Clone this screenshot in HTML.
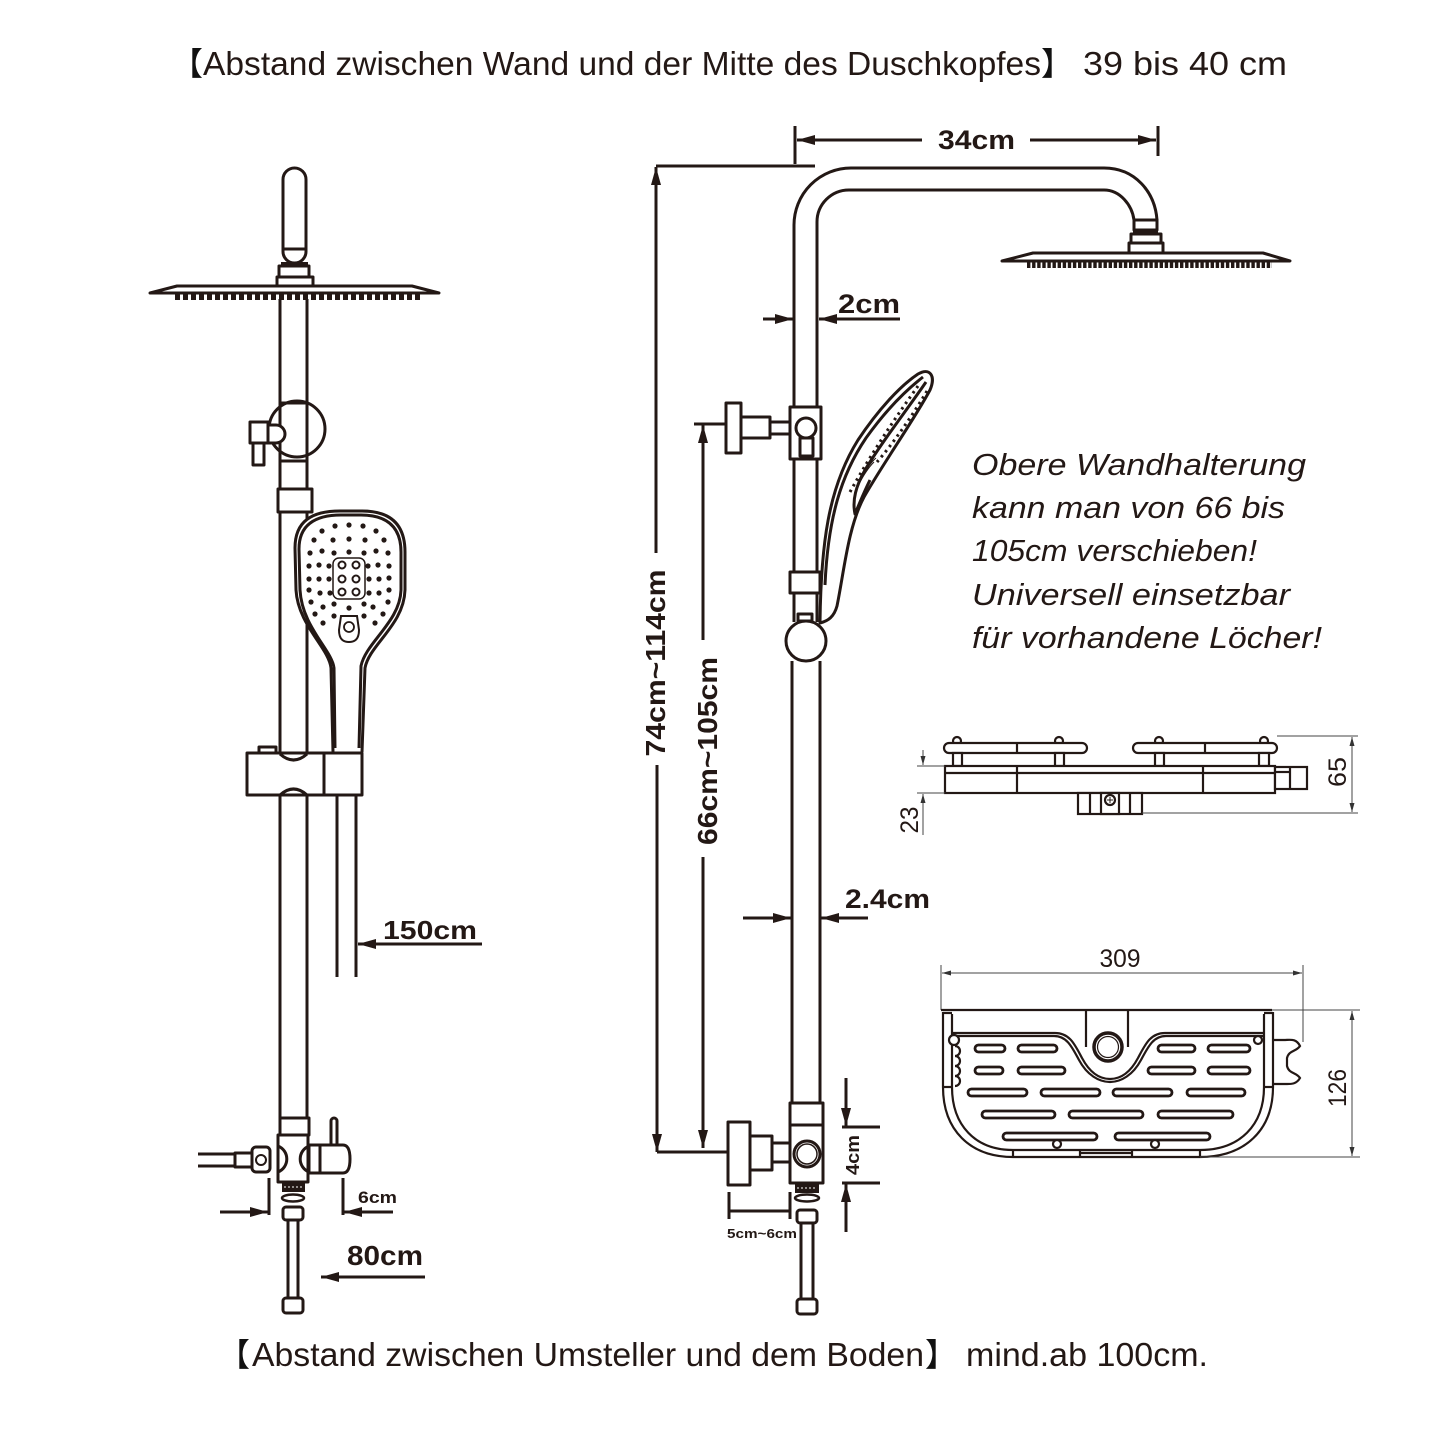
<!DOCTYPE html>
<html>
<head>
<meta charset="utf-8">
<style>
  html,body{margin:0;padding:0;background:#fff;}
  svg{display:block;}
  .s{fill:none;stroke:#231815;stroke-width:3;stroke-linejoin:round;}
  .w{fill:#fff;stroke:#231815;stroke-width:3;stroke-linejoin:round;}
  .t{fill:none;stroke:#231815;stroke-width:2.2;}
  .tw{fill:#fff;stroke:#231815;stroke-width:2.2;}
  .d{fill:none;stroke:#444;stroke-width:1;}
  .f{fill:#231815;}
  .b{font-family:"Liberation Sans",Arial,sans-serif;font-weight:bold;fill:#231815;}
  .r{font-family:"Liberation Sans",Arial,sans-serif;fill:#231815;}
  .cjk{font-family:"Noto Sans CJK SC","WenQuanYi Zen Hei",sans-serif;fill:#111;}
</style>
</head>
<body>
<svg width="1445" height="1445" viewBox="0 0 1445 1445" xmlns="http://www.w3.org/2000/svg">
<defs>
  <marker id="ah" markerUnits="userSpaceOnUse" markerWidth="18" markerHeight="10" refX="18" refY="5" orient="auto">
    <path d="M0,0 L18,5 L0,10 Z" fill="#231815"/>
  </marker>
  <marker id="as" markerUnits="userSpaceOnUse" markerWidth="9" markerHeight="5" refX="9" refY="2.5" orient="auto">
    <path d="M0,0 L9,2.5 L0,5 Z" fill="#333"/>
  </marker>
</defs>
<rect width="1445" height="1445" fill="#fff"/>

<!-- ===== Titles ===== -->
<text class="cjk" x="171" y="75" font-size="32">【</text>
<text class="r" x="203" y="75" font-size="33" textLength="838" lengthAdjust="spacingAndGlyphs">Abstand zwischen Wand und der Mitte des Duschkopfes</text>
<text class="cjk" x="1041" y="75" font-size="32">】</text>
<text class="r" x="1083" y="75" font-size="33" textLength="204" lengthAdjust="spacingAndGlyphs">39 bis 40 cm</text>

<text class="cjk" x="218" y="1366" font-size="32">【</text>
<text class="r" x="252" y="1366" font-size="33" textLength="672" lengthAdjust="spacingAndGlyphs">Abstand zwischen Umsteller und dem Boden</text>
<text class="cjk" x="925" y="1366" font-size="32">】</text>
<text class="r" x="966" y="1366" font-size="33" textLength="242" lengthAdjust="spacingAndGlyphs">mind.ab 100cm.</text>

<!-- ===== LEFT DIAGRAM ===== -->
<rect class="s" x="283" y="168" width="23" height="95" rx="11.5"/>
<line class="s" x1="283" y1="249" x2="306" y2="249"/>
<rect class="f" x="281" y="262" width="27" height="4"/>
<rect class="s" x="279" y="266" width="30" height="11"/>
<rect class="s" x="277" y="277" width="36" height="9"/>
<path class="w" d="M150,293 L177,286 L412,286 L439,293 Z" stroke-width="2.5"/>
<line x1="175" y1="296.5" x2="421" y2="296.5" stroke="#231815" stroke-width="7" stroke-dasharray="5 3"/>

<line class="s" x1="280" y1="299" x2="280" y2="488"/>
<line class="s" x1="307" y1="299" x2="307" y2="488"/>
<line class="s" x1="280" y1="403" x2="307" y2="403"/>
<line class="s" x1="280" y1="461" x2="307" y2="461"/>
<circle class="s" cx="297" cy="429" r="28"/>
<rect class="w" x="250" y="422" width="18" height="21"/>
<rect class="w" x="253" y="443" width="11" height="22"/>
<path class="w" d="M268,425 L276,425 A9,9 0 0 1 276,443 L268,443 Z"/>
<rect class="w" x="278" y="489" width="34" height="23"/>
<line class="s" x1="280" y1="512" x2="280" y2="754"/>
<line class="s" x1="307" y1="512" x2="307" y2="754"/>

<!-- hand shower front -->
<path class="w" d="M333,752 L331,668 C329,648 298,625 296,590 L295,548 C295,521 312,511 340,511 L362,511 C391,511 405,525 405,552 L405,590 C404,625 369,645 365,668 L362,752"/>
<path class="s" stroke-width="2" d="M335,748 L334,668 C332,650 302,627 300,590 L299,549 C299,525 315,515 341,515 L361,515 C388,515 401,528 401,552 L401,590 C400,622 366,642 361,666 L359,748"/>
<g class="f">
  <circle cx="335" cy="526" r="2.6"/><circle cx="349" cy="525" r="2.6"/><circle cx="363" cy="526" r="2.6"/>
  <circle cx="322" cy="531" r="2.6"/><circle cx="376" cy="531" r="2.6"/>
  <circle cx="314" cy="540" r="2.6"/><circle cx="333" cy="540" r="2.6"/><circle cx="349" cy="539" r="2.6"/><circle cx="365" cy="540" r="2.6"/><circle cx="384" cy="540" r="2.6"/>
  <circle cx="310" cy="553" r="2.6"/><circle cx="322" cy="551" r="2.6"/><circle cx="334" cy="553" r="2.6"/><circle cx="349" cy="552" r="2.6"/><circle cx="364" cy="553" r="2.6"/><circle cx="376" cy="551" r="2.6"/><circle cx="388" cy="553" r="2.6"/>
  <circle cx="309" cy="566" r="2.6"/><circle cx="319" cy="565" r="2.6"/><circle cx="329" cy="566" r="2.6"/><circle cx="368" cy="566" r="2.6"/><circle cx="378" cy="565" r="2.6"/><circle cx="389" cy="566" r="2.6"/>
  <circle cx="309" cy="579" r="2.6"/><circle cx="319" cy="579" r="2.6"/><circle cx="329" cy="579" r="2.6"/><circle cx="369" cy="579" r="2.6"/><circle cx="379" cy="579" r="2.6"/><circle cx="389" cy="578" r="2.6"/>
  <circle cx="309" cy="590" r="2.6"/><circle cx="320" cy="593" r="2.6"/><circle cx="330" cy="593" r="2.6"/><circle cx="369" cy="593" r="2.6"/><circle cx="379" cy="593" r="2.6"/><circle cx="389" cy="590" r="2.6"/>
  <circle cx="311" cy="602" r="2.6"/><circle cx="334" cy="604" r="2.6"/><circle cx="349" cy="608" r="2.6"/><circle cx="364" cy="604" r="2.6"/><circle cx="388" cy="602" r="2.6"/>
  <circle cx="323" cy="607" r="2.6"/><circle cx="373" cy="607" r="2.6"/>
  <circle cx="315" cy="614" r="2.6"/><circle cx="334" cy="616" r="2.6"/><circle cx="364" cy="616" r="2.6"/><circle cx="383" cy="614" r="2.6"/>
  <circle cx="323" cy="623" r="2.6"/><circle cx="375" cy="623" r="2.6"/>
</g>
<rect x="333" y="558" width="32" height="41" rx="6" fill="none" stroke="#231815" stroke-width="1.5"/>
<g fill="none" stroke="#231815" stroke-width="2">
  <circle cx="342" cy="565" r="3.5"/><circle cx="356" cy="565" r="3.5"/>
  <circle cx="342" cy="579" r="3.5"/><circle cx="356" cy="579" r="3.5"/>
  <circle cx="342" cy="592" r="3.5"/><circle cx="356" cy="592" r="3.5"/>
</g>
<path d="M341,616 L357,616 L359,630 C359,640 354,642 349,642 C344,642 339,640 339,630 Z" fill="none" stroke="#231815" stroke-width="2"/>
<circle cx="349" cy="627" r="5" fill="none" stroke="#231815" stroke-width="1.8"/>
<path class="s" stroke-width="2.5" d="M335,754 C340,760 357,761 362,754"/>
<path class="s" stroke-width="2.5" d="M337,759 C342,767 356,767 361,759"/>

<rect class="w" x="259" y="747" width="17" height="6"/>
<rect class="w" x="247" y="753" width="115" height="42"/>
<line class="s" x1="324" y1="753" x2="324" y2="795"/>
<path class="s" d="M280,754 Q293.5,766 307,754"/>
<path class="s" d="M280,795 Q293.5,783 307,795"/>
<line class="s" x1="337" y1="795" x2="337" y2="977"/>
<line class="s" x1="356" y1="795" x2="356" y2="977"/>
<line class="s" x1="280" y1="795" x2="280" y2="1118"/>
<line class="s" x1="307" y1="795" x2="307" y2="1118"/>
<text class="b" x="383" y="939" font-size="26" textLength="94" lengthAdjust="spacingAndGlyphs">150cm</text>
<line class="s" x1="482" y1="944" x2="358" y2="944" marker-end="url(#ah)"/>

<!-- left diverter -->
<rect class="w" x="280" y="1118" width="29" height="17"/>
<rect class="w" x="278" y="1135" width="30" height="47"/>
<path class="s" d="M278,1146 A14,14 0 0 1 278,1172"/>
<path class="s" d="M309,1146 A14,14 0 0 0 309,1172"/>
<rect class="w" x="331" y="1118" width="6" height="28" rx="3"/>
<path class="w" d="M309,1145 L343,1145 C349,1145 350,1152 350,1159 C350,1166 349,1173 343,1173 L309,1173 Z"/>
<line class="s" x1="320" y1="1145" x2="320" y2="1173" stroke-width="2"/>
<rect class="w" x="252" y="1147" width="18" height="25" rx="4"/>
<circle cx="261" cy="1160" r="5" fill="none" stroke="#231815" stroke-width="2"/>
<rect class="w" x="235" y="1153" width="17" height="14"/>
<line class="s" x1="198" y1="1154" x2="235" y2="1154" stroke-width="2.5"/>
<line class="s" x1="198" y1="1166" x2="235" y2="1166" stroke-width="2.5"/>
<rect class="f" x="282" y="1182" width="23" height="10"/>
<line x1="284" y1="1187" x2="303" y2="1187" stroke="#fff" stroke-width="1" stroke-dasharray="2 2"/>
<ellipse cx="293" cy="1198" rx="11" ry="3.5" fill="none" stroke="#231815" stroke-width="2.5"/>
<rect class="w" x="283" y="1207" width="20" height="13" rx="3"/>
<line class="s" x1="288" y1="1220" x2="288" y2="1298" stroke-width="2"/>
<line class="s" x1="298" y1="1220" x2="298" y2="1298" stroke-width="2"/>
<rect class="w" x="283" y="1298" width="20" height="15" rx="3"/>
<line class="s" x1="269" y1="1178" x2="269" y2="1215" stroke-width="2.5"/>
<line class="s" x1="343" y1="1178" x2="343" y2="1215" stroke-width="2.5"/>
<line class="s" x1="220" y1="1212" x2="268" y2="1212" marker-end="url(#ah)"/>
<line class="s" x1="393" y1="1212" x2="344" y2="1212" marker-end="url(#ah)"/>
<text class="b" x="358" y="1203" font-size="17" textLength="39" lengthAdjust="spacingAndGlyphs">6cm</text>
<text class="b" x="347" y="1265" font-size="28" textLength="76" lengthAdjust="spacingAndGlyphs">80cm</text>
<line class="s" x1="425" y1="1277" x2="321" y2="1277" marker-end="url(#ah)"/>

<!-- ===== RIGHT DIAGRAM ===== -->
<line class="s" x1="795" y1="126" x2="795" y2="164" stroke-width="2.5"/>
<line class="s" x1="1158" y1="126" x2="1158" y2="156" stroke-width="2.5"/>
<line class="s" x1="922" y1="140" x2="797" y2="140" marker-end="url(#ah)"/>
<line class="s" x1="1030" y1="140" x2="1156" y2="140" marker-end="url(#ah)"/>
<text class="b" x="938" y="149" font-size="27" textLength="77" lengthAdjust="spacingAndGlyphs">34cm</text>

<path class="s" d="M794,407 L794,225 A57,57 0 0 1 851,168 L1104,168 C1135,168 1155,192 1157,220"/>
<path class="s" d="M817,407 L817,222 A32,32 0 0 1 849,190 L1104,190 C1120,190 1132,205 1134,220"/>
<rect class="w" x="1134" y="220" width="23" height="10"/>
<rect class="f" x="1133" y="230" width="25" height="4"/>
<rect class="w" x="1131" y="234" width="30" height="9"/>
<rect class="w" x="1129" y="243" width="34" height="10"/>
<path class="w" d="M1002,261 L1033,253 L1263,253 L1290,261 Z" stroke-width="2.5"/>
<line x1="1027" y1="264.5" x2="1272" y2="264.5" stroke="#231815" stroke-width="7" stroke-dasharray="3.4 1.7"/>

<line class="s" x1="763" y1="319" x2="793" y2="319" marker-end="url(#ah)"/>
<line class="s" x1="900" y1="319" x2="819" y2="319" marker-end="url(#ah)"/>
<text class="b" x="838" y="313" font-size="27" textLength="62" lengthAdjust="spacingAndGlyphs">2cm</text>

<line class="s" x1="656" y1="166" x2="815" y2="166" stroke-width="2.5"/>
<line class="s" x1="656" y1="553" x2="656" y2="167" marker-end="url(#ah)"/>
<line class="s" x1="657" y1="765" x2="657" y2="1152" marker-end="url(#ah)"/>
<text class="b" transform="translate(665,663) rotate(-90)" text-anchor="middle" font-size="28" textLength="187" lengthAdjust="spacingAndGlyphs">74cm~114cm</text>
<line class="s" x1="694" y1="424" x2="726" y2="424" stroke-width="2.5"/>
<line class="s" x1="703" y1="640" x2="703" y2="425" marker-end="url(#ah)"/>
<line class="s" x1="703" y1="857" x2="703" y2="1148" marker-end="url(#ah)"/>
<text class="b" transform="translate(717,751) rotate(-90)" text-anchor="middle" font-size="28" textLength="188" lengthAdjust="spacingAndGlyphs">66cm~105cm</text>
<line class="s" x1="657" y1="1152" x2="745" y2="1152" stroke-width="2.5"/>

<rect class="w" x="726" y="403" width="15" height="50"/>
<rect class="w" x="741" y="417" width="29" height="21"/>
<rect class="w" x="770" y="422" width="20" height="12"/>
<rect class="w" x="790" y="407" width="31" height="52"/>
<circle class="w" cx="806" cy="428" r="10"/>
<rect class="w" x="800" y="438" width="13" height="18"/>

<line class="s" x1="794" y1="459" x2="794" y2="572"/>
<line class="s" x1="817" y1="459" x2="817" y2="572"/>

<!-- hand shower side -->
<path class="w" d="M820,622 C821,545 828,488 858,440 C878,410 900,386 918,374 C930,367 936,376 930,390 C914,420 884,462 864,497 C848,527 844,572 837,606 C834,617 828,621 820,623 Z"/>
<path class="s" stroke-width="2" d="M825,585 C828,518 841,475 866,438 C886,410 905,391 923,377"/>
<path class="s" stroke-width="1.8" d="M926,382 C907,410 883,440 865,470 C856,486 852,500 855,514 C860,502 864,492 870,480"/>
<path fill="none" stroke="#231815" stroke-width="3" stroke-dasharray="2.5 4" d="M918,386 C898,414 872,452 850,492"/>
<path fill="none" stroke="#231815" stroke-width="3" stroke-dasharray="2.5 4" d="M927,391 C911,418 891,446 877,462"/>
<path fill="none" stroke="#231815" stroke-width="1" d="M862,478 C866,470 870,463 876,458 M858,486 C862,478 868,468 874,462"/>

<rect class="w" x="790" y="572" width="30" height="21"/>
<line class="s" x1="794" y1="593" x2="794" y2="622"/>
<line class="s" x1="817" y1="593" x2="817" y2="622"/>
<rect class="w" x="798" y="614" width="14" height="7"/>
<circle class="w" cx="806" cy="641" r="20"/>
<line class="s" x1="792" y1="661" x2="792" y2="1103"/>
<line class="s" x1="820" y1="661" x2="820" y2="1103"/>
<line class="s" x1="743" y1="918" x2="791" y2="918" marker-end="url(#ah)"/>
<line class="s" x1="868" y1="918" x2="821" y2="918" marker-end="url(#ah)"/>
<text class="b" x="845" y="908" font-size="27" textLength="85" lengthAdjust="spacingAndGlyphs">2.4cm</text>

<rect class="w" x="728" y="1122" width="22" height="63"/>
<rect class="w" x="750" y="1136" width="22" height="34"/>
<rect class="w" x="772" y="1143" width="18" height="19"/>
<rect class="w" x="790" y="1103" width="33" height="80"/>
<line class="s" x1="790" y1="1125" x2="823" y2="1125"/>
<circle class="s" cx="807" cy="1154" r="13"/>
<circle cx="807" cy="1154" r="10" fill="none" stroke="#231815" stroke-width="1.5"/>
<rect class="f" x="795" y="1183" width="24" height="10"/>
<line x1="797" y1="1188" x2="817" y2="1188" stroke="#fff" stroke-width="1" stroke-dasharray="2 2"/>
<ellipse cx="807" cy="1198" rx="12" ry="3.5" fill="none" stroke="#231815" stroke-width="2.5"/>
<rect class="w" x="797" y="1210" width="20" height="13" rx="3"/>
<line class="s" x1="801" y1="1223" x2="801" y2="1299" stroke-width="2"/>
<line class="s" x1="813" y1="1223" x2="813" y2="1299" stroke-width="2"/>
<rect class="w" x="797" y="1299" width="20" height="15" rx="3"/>
<line class="s" x1="842" y1="1127" x2="880" y2="1127" stroke-width="2.5"/>
<line class="s" x1="842" y1="1183" x2="880" y2="1183" stroke-width="2.5"/>
<line class="s" x1="846" y1="1078" x2="846" y2="1126" marker-end="url(#ah)"/>
<line class="s" x1="846" y1="1232" x2="846" y2="1184" marker-end="url(#ah)"/>
<text class="b" transform="translate(859,1155) rotate(-90)" text-anchor="middle" font-size="18" textLength="40" lengthAdjust="spacingAndGlyphs">4cm</text>
<line class="s" x1="729" y1="1192" x2="729" y2="1219" stroke-width="2.5"/>
<line class="s" x1="790" y1="1192" x2="790" y2="1219" stroke-width="2.5"/>
<line class="s" x1="729" y1="1211" x2="790" y2="1211" stroke-width="2.5"/>
<text class="b" x="727" y="1238" font-size="13" textLength="70" lengthAdjust="spacingAndGlyphs">5cm~6cm</text>

<g class="r" font-style="italic" font-size="31">
  <text x="972" y="475" textLength="334" lengthAdjust="spacingAndGlyphs">Obere Wandhalterung</text>
  <text x="972" y="518" textLength="313" lengthAdjust="spacingAndGlyphs">kann man von 66 bis</text>
  <text x="972" y="561" textLength="285" lengthAdjust="spacingAndGlyphs">105cm verschieben!</text>
  <text x="972" y="605" textLength="318" lengthAdjust="spacingAndGlyphs">Universell einsetzbar</text>
  <text x="972" y="648" textLength="350" lengthAdjust="spacingAndGlyphs">für vorhandene Löcher!</text>
</g>

<!-- ===== SHELF SIDE VIEW ===== -->
<circle class="tw" cx="957" cy="741" r="4"/>
<circle class="tw" cx="1059" cy="741" r="4"/>
<circle class="tw" cx="1159" cy="741" r="4"/>
<circle class="tw" cx="1264" cy="741" r="4"/>
<rect class="tw" x="944" y="743" width="143" height="10" rx="5"/>
<line class="t" x1="1017" y1="743" x2="1017" y2="753"/>
<rect class="tw" x="1133" y="743" width="144" height="10" rx="5"/>
<line class="t" x1="1205" y1="743" x2="1205" y2="753"/>
<rect class="tw" x="953" y="753" width="9" height="13"/>
<rect class="tw" x="1055" y="753" width="9" height="13"/>
<rect class="tw" x="1155" y="753" width="9" height="13"/>
<rect class="tw" x="1259" y="753" width="10" height="13"/>
<rect class="tw" x="945" y="766" width="330" height="27" stroke-width="2.8"/>
<line class="t" x1="945" y1="773" x2="1275" y2="773"/>
<line class="t" x1="1017" y1="766" x2="1017" y2="793"/>
<line class="t" x1="1203" y1="766" x2="1203" y2="793"/>
<rect class="tw" x="1275" y="767" width="32" height="22"/>
<line class="t" x1="1290" y1="767" x2="1290" y2="789"/>
<line class="t" x1="1275" y1="772" x2="1290" y2="772"/>
<rect class="tw" x="1078" y="793" width="64" height="21"/>
<line class="t" x1="1090" y1="793" x2="1090" y2="814"/>
<line class="t" x1="1130" y1="793" x2="1130" y2="814"/>
<rect class="tw" x="1101" y="793" width="18" height="21"/>
<circle class="tw" cx="1110" cy="800" r="5"/>
<path d="M1107,800 h6 M1110,797 v6" stroke="#231815" stroke-width="1"/>
<line class="d" x1="1277" y1="736" x2="1358" y2="736"/>
<line class="d" x1="1142" y1="813" x2="1358" y2="813"/>
<line class="d" x1="1352" y1="774" x2="1352" y2="737" marker-end="url(#as)"/>
<line class="d" x1="1352" y1="774" x2="1352" y2="812" marker-end="url(#as)"/>
<text class="r" transform="translate(1346,772) rotate(-90)" text-anchor="middle" font-size="25" textLength="30" lengthAdjust="spacingAndGlyphs">65</text>
<line class="d" x1="917" y1="766" x2="945" y2="766"/>
<line class="d" x1="917" y1="793" x2="945" y2="793"/>
<line class="d" x1="923" y1="750" x2="923" y2="765" marker-end="url(#as)"/>
<line class="d" x1="923" y1="835" x2="923" y2="794" marker-end="url(#as)"/>
<text class="r" transform="translate(918,820) rotate(-90)" text-anchor="middle" font-size="25" textLength="27" lengthAdjust="spacingAndGlyphs">23</text>

<!-- ===== SHELF TOP VIEW ===== -->
<line class="d" x1="941" y1="965" x2="941" y2="1010"/>
<line class="d" x1="1303" y1="965" x2="1303" y2="1042"/>
<line class="d" x1="1120" y1="973" x2="942" y2="973" marker-end="url(#as)"/>
<line class="d" x1="1120" y1="973" x2="1302" y2="973" marker-end="url(#as)"/>
<text class="r" x="1120" y="967" text-anchor="middle" font-size="25" textLength="41" lengthAdjust="spacingAndGlyphs">309</text>

<line class="t" x1="941" y1="1010" x2="1272" y2="1010"/>
<path class="t" stroke-width="2.8" d="M943,1012 L943,1087 C943,1130 970,1157 1013,1157 L1200,1157 C1245,1157 1273,1130 1273,1087 L1273,1012"/>
<path class="t" stroke-width="2.2" d="M952,1014 L952,1087 C952,1125 975,1150 1013,1150 L1200,1150 C1240,1150 1264,1125 1264,1087 L1264,1014"/>
<line class="t" x1="943" y1="1013" x2="952" y2="1013"/>
<line class="t" x1="1264" y1="1013" x2="1273" y2="1013"/>
<line class="t" x1="943" y1="1087" x2="952" y2="1087"/>
<line class="t" x1="1264" y1="1087" x2="1273" y2="1087"/>
<path class="t" stroke-width="2.4" d="M952,1033 L1055,1033 C1070,1033 1075,1045 1082,1058 C1090,1073 1100,1079 1110,1079 C1120,1079 1130,1073 1138,1058 C1145,1045 1150,1033 1165,1033 L1264,1033"/>
<path class="t" stroke-width="1.6" d="M952,1036 L1054,1036 C1067,1036 1072,1047 1079,1060 C1087,1075 1099,1082 1110,1082 C1121,1082 1133,1075 1141,1060 C1148,1047 1153,1036 1166,1036 L1264,1036"/>
<path class="t" stroke-width="2" d="M1086,1010 L1086,1047 M1128,1010 L1128,1047"/>
<circle cx="1108" cy="1047" r="14" fill="#fff" stroke="#231815" stroke-width="3.5"/>
<circle cx="1108" cy="1047" r="10.5" fill="none" stroke="#231815" stroke-width="1.2"/>
<g fill="none" stroke="#231815" stroke-width="2.8">
  <rect x="975" y="1045" width="30" height="7" rx="3.5"/><rect x="1018" y="1045" width="39" height="7" rx="3.5"/>
  <rect x="1158" y="1045" width="37" height="7" rx="3.5"/><rect x="1208" y="1045" width="42" height="7" rx="3.5"/>
  <rect x="975" y="1067" width="28" height="7" rx="3.5"/><rect x="1018" y="1067" width="47" height="7" rx="3.5"/>
  <rect x="1148" y="1067" width="47" height="7" rx="3.5"/><rect x="1208" y="1067" width="42" height="7" rx="3.5"/>
  <rect x="968" y="1089" width="59" height="7" rx="3.5"/><rect x="1041" y="1089" width="59" height="7" rx="3.5"/>
  <rect x="1113" y="1089" width="59" height="7" rx="3.5"/><rect x="1187" y="1089" width="58" height="7" rx="3.5"/>
  <rect x="982" y="1111" width="73" height="7" rx="3.5"/><rect x="1069" y="1111" width="74" height="7" rx="3.5"/>
  <rect x="1158" y="1111" width="75" height="7" rx="3.5"/>
  <rect x="1003" y="1133" width="94" height="7" rx="3.5"/><rect x="1115" y="1133" width="95" height="7" rx="3.5"/>
</g>
<circle class="tw" cx="1057" cy="1144" r="4"/>
<circle class="tw" cx="1155" cy="1144" r="4"/>
<path class="t" d="M1013,1150 L1013,1157 M1080,1150 L1080,1157 M1132,1150 L1132,1157 M1200,1150 L1200,1157"/>
<line class="t" x1="1080" y1="1153" x2="1132" y2="1153"/>
<circle class="tw" cx="954" cy="1040" r="5"/>
<path class="t" d="M955,1046 a5,5 0 0 1 0,10 a5,5 0 0 1 0,10 a5,5 0 0 1 0,10 a5,5 0 0 1 0,10"/>
<circle class="tw" cx="1258" cy="1040" r="4"/>
<path class="t" stroke-width="2.4" d="M1273,1040 L1284,1040 C1290,1040 1296,1038 1300,1046 C1296,1052 1289,1050 1287,1058 L1287,1066 C1289,1074 1296,1072 1300,1078 C1296,1085 1290,1084 1284,1084 L1273,1084"/>
<line class="d" x1="1272" y1="1010" x2="1360" y2="1010"/>
<line class="d" x1="1200" y1="1157" x2="1360" y2="1157"/>
<line class="d" x1="1352" y1="1084" x2="1352" y2="1011" marker-end="url(#as)"/>
<line class="d" x1="1352" y1="1084" x2="1352" y2="1156" marker-end="url(#as)"/>
<text class="r" transform="translate(1346,1088) rotate(-90)" text-anchor="middle" font-size="25" textLength="38" lengthAdjust="spacingAndGlyphs">126</text>
</svg>
</body>
</html>
